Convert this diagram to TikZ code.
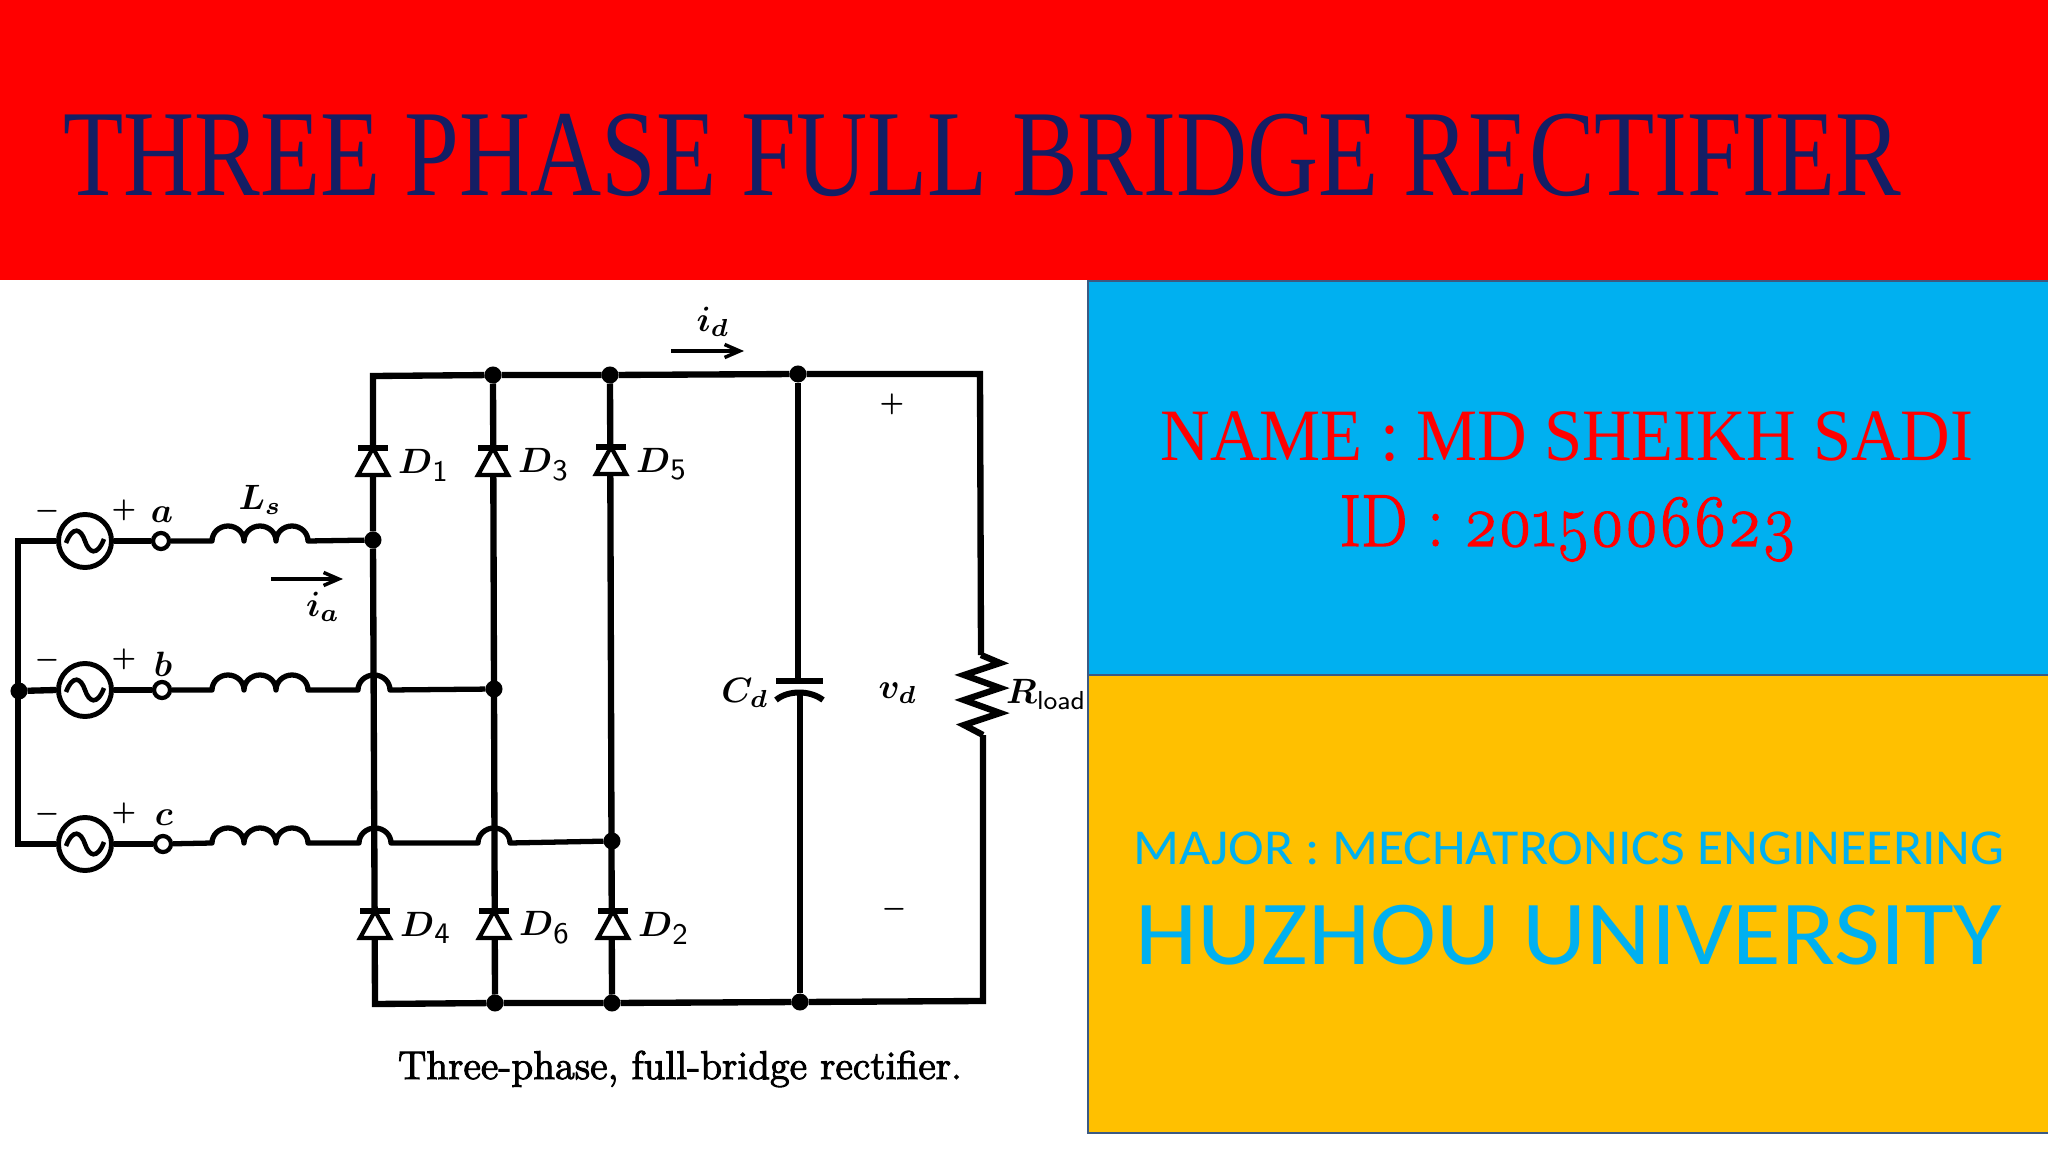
\documentclass[tikz,border=0pt]{standalone}
\usepackage{fontspec}
\usepackage{amsmath}
\usepackage{xcolor}
\usetikzlibrary{arrows.meta}
\newfontfamily\titlefont{Liberation Serif}[FakeStretch=0.80]
\newfontfamily\infofont{Liberation Serif}[FakeStretch=0.93]
\newfontfamily\idfont{Latin Modern Roman}[Numbers=OldStyle,FakeStretch=0.89,FakeBold=1.5]
\newfontfamily\majorfont{Carlito}[FakeStretch=1.07]
\newfontfamily\unifont{Carlito}[FakeStretch=1.09]
\newfontfamily\capfont{Latin Modern Roman}[FakeBold=2.5]
\definecolor{titlered}{RGB}{255,0,0}
\definecolor{titleblue}{RGB}{20,30,100}
\definecolor{panelblue}{RGB}{0,176,240}
\definecolor{panelgold}{RGB}{255,192,0}
\definecolor{paneledge}{RGB}{60,90,130}
\begin{document}
\begin{tikzpicture}[x=0.01cm, y=-0.01cm, line width=1.8pt,
    wire/.style={line width=1.8pt, line join=miter},
    coil/.style={line width=1.5pt, line join=round},
    dot/.style={circle, fill=black, inner sep=0pt, outer sep=0pt, minimum size=0.17cm},
    term/.style={circle, draw, fill=white, inner sep=0pt, minimum size=0.16cm, line width=1.2pt},
    src/.style={circle, draw, fill=white, inner sep=0pt, minimum size=0.53cm, line width=1.4pt},
    lbl/.style={inner sep=0pt, font=\fontsize{10pt}{11pt}\selectfont},
    sgn/.style={inner sep=0pt, font=\fontsize{7.5pt}{9pt}\selectfont},
    panel/.style={inner sep=0pt, outer sep=0pt, anchor=north west},
    info/.style={inner sep=0pt, anchor=base},
    ibar/.style={-{Straight Barb[length=1.5mm,width=1.3mm]}, line width=1pt}]
    \useasboundingbox (0,0) rectangle (2048,1152);
    \fill[white] (0,0) rectangle (2048,1152);
    \node[panel, fill=titlered, minimum width=20.48cm, minimum height=2.8cm] (banner) at (0,0) {};
    \node[panel, fill=panelblue, draw=paneledge, line width=0.5pt, minimum width=9.70cm, minimum height=3.94cm] (namebox) at (1088,281) {};
    \node[panel, fill=panelgold, draw=paneledge, line width=0.5pt, minimum width=9.70cm, minimum height=4.58cm] (unibox) at (1088,675) {};
    \node[info, anchor=base west, text=titleblue, font=\titlefont\fontsize{35pt}{38pt}\selectfont] (title) at (60,196) {THREE PHASE FULL BRIDGE RECTIFIER};
    \node[info, text=titlered, font=\infofont\fontsize{21pt}{23pt}\selectfont] (namelbl) at (1567,461) {NAME : MD SHEIKH SADI};
    \node[info, text=titlered, font=\idfont\fontsize{21pt}{23pt}\selectfont] (idlbl) at (1568,546) {ID : 2015006623};
    \node[info, text=panelblue, font=\majorfont\fontsize{14.3pt}{16pt}\selectfont] (majorlbl) at (1569,864) {MAJOR : MECHATRONICS ENGINEERING};
    \node[info, text=panelblue, font=\unifont\fontsize{26pt}{28pt}\selectfont] (unilbl) at (1569,964) {HUZHOU UNIVERSITY};

    % nodes of the dc side
    \node[dot] (t3) at (493,375) {};
    \node[dot] (t5) at (610,375) {};
    \node[dot] (tc) at (798,374) {};
    \coordinate (tl) at (373,376);
    \coordinate (tr) at (980,374);
    \node[dot] (ja) at (373,540) {};
    \node[dot] (jb) at (494,689) {};
    \node[dot] (jc) at (612,841) {};
    \node[dot] (b6) at (495,1003) {};
    \node[dot] (b2) at (612,1003) {};
    \node[dot] (bc) at (800,1002) {};
    \coordinate (bl) at (375,1004);
    \coordinate (br) at (983,1001);
    \coordinate (ra) at (981,655);
    \coordinate (rb) at (983,735);
    \draw[wire] (ja) -- (tl) -- (t3) -- (t5) -- (tc) -- (tr) -- (ra);
    \draw[wire] (rb) -- (br) -- (bc) -- (b2) -- (b6) -- (bl) -- (ja);
    \draw[wire] (t3) -- (b6);
    \draw[wire] (t5) -- (b2);
    \coordinate (ca) at (798,681);
    \coordinate (cb) at (800,695);
    \draw[wire] (tc) -- (ca) (cb) -- (bc);

    % source rows
    \foreach \py/\sname/\tx/\phname in {541/sa/161/a, 690/sb/162/b, 844/sc/163/c} {
      \node[src] (\sname) at (85,\py) {};
      \node[term] (\sname t) at (\tx,\py) {};
      \draw[line width=1.3pt] (66,\py+2) .. controls (73,\py-16) and (81,\py-12) .. (85,\py) .. controls (89,\py+12) and (97,\py+16) .. (104,\py-2);
      \node[sgn] (\sname m) at (47,\py-30) {$\boldsymbol{-}$};
      \node[sgn] (\sname p) at (124,\py-31) {$\boldsymbol{+}$};
      \node[lbl] (\sname l) at (\tx+1,\py-26) {$\boldsymbol{\phname}$};
    }
    \coordinate (sl) at (18,541);
    \coordinate (sl2) at (18,844);
    \node[dot] (jl) at (19,691) {};
    \draw[wire] (sa.west) -- (sl) -- (sl2) -- (sc.west);
    \draw[wire] (jl) -- (sb.west);
    \draw[wire] (sa.east) -- (sat);
    \draw[wire] (sb.east) -- (sbt);
    \draw[wire] (sc.east) -- (sct);

    % inductors and hops
    \draw[coil] (sat) -- (212,541) arc[start angle=180,end angle=360,x radius=16,y radius=15] arc[start angle=180,end angle=360,x radius=16,y radius=15] arc[start angle=180,end angle=360,x radius=16,y radius=15] -- (ja);
    \draw[coil] (sbt) -- (212,690) arc[start angle=180,end angle=360,x radius=16,y radius=15] arc[start angle=180,end angle=360,x radius=16,y radius=15] arc[start angle=180,end angle=360,x radius=16,y radius=15] -- (358,690) arc[start angle=180,end angle=360,x radius=16,y radius=15] -- (jb);
    \draw[coil] (sct) -- (212,843) arc[start angle=180,end angle=360,x radius=16,y radius=15] arc[start angle=180,end angle=360,x radius=16,y radius=15] arc[start angle=180,end angle=360,x radius=16,y radius=15] -- (359,843) arc[start angle=180,end angle=360,x radius=16,y radius=15] -- (478,843) arc[start angle=180,end angle=360,x radius=16,y radius=15] -- (jc);

    % diodes
    \foreach \px/\py/\dname/\dsub in {373/461/d1/1, 493/461/d3/3, 611/460/d5/5, 375/924/d4/4, 494/924/d6/6, 613/924/d2/2} {
      \draw[line width=1.2pt, fill=white] (\px,\py-13) -- (\px+15,\py+14) -- (\px-15,\py+14) -- cycle;
      \draw[line width=1.5pt] (\px-15,\py-13) -- (\px+15,\py-13);
      \node[lbl, anchor=west] (\dname) at (\px+22,\py+4) {$\boldsymbol{D}_{\mbox{\fontsize{8.5pt}{9pt}\sffamily \dsub}}$};
    }

    % capacitor and resistor
    \draw[line width=1.7pt] (776,681) -- (823,681);
    \draw[line width=1.7pt] (776,700) .. controls (788,690) and (810,690) .. (823,700);
    \draw[wire] (ra) -- (1000,663) -- (964,675) -- (1000,688) -- (964,700) -- (1000,713) -- (964,725) -- (rb);

    \node[lbl] (cdlbl) at (745,693) {$\boldsymbol{C_d}$};
    \node[lbl] (vdlbl) at (898,693) {$\boldsymbol{v_d}$};
    \node[lbl, anchor=west] (rlbl) at (1003,695) {$\boldsymbol{R}_{\mbox{\fontsize{7.4pt}{8pt}\sffamily load}}$};
    \node[sgn] (vplus) at (892,404) {$\boldsymbol{+}$};
    \node[sgn] (vminus) at (894,909) {$\boldsymbol{-}$};
    \node[lbl] (lslbl) at (260,500) {$\boldsymbol{L_s}$};
    \node[lbl] (ialbl) at (323,607) {$\boldsymbol{i_a}$};
    \node[lbl] (idlbl2) at (713,322) {$\boldsymbol{i_d}$};
    \coordinate (iastart) at (271,579);
    \coordinate (iaend) at (343,579);
    \coordinate (idstart) at (671,351);
    \coordinate (idend) at (744,351);
    \draw[ibar] (iastart) -- (iaend);
    \draw[ibar] (idstart) -- (idend);
    \node[inner sep=0pt, font=\capfont\fontsize{11.4pt}{13pt}\selectfont] (caption) at (680,1069) {Three-phase, full-bridge rectifier.};
  \end{tikzpicture}
\end{document}
